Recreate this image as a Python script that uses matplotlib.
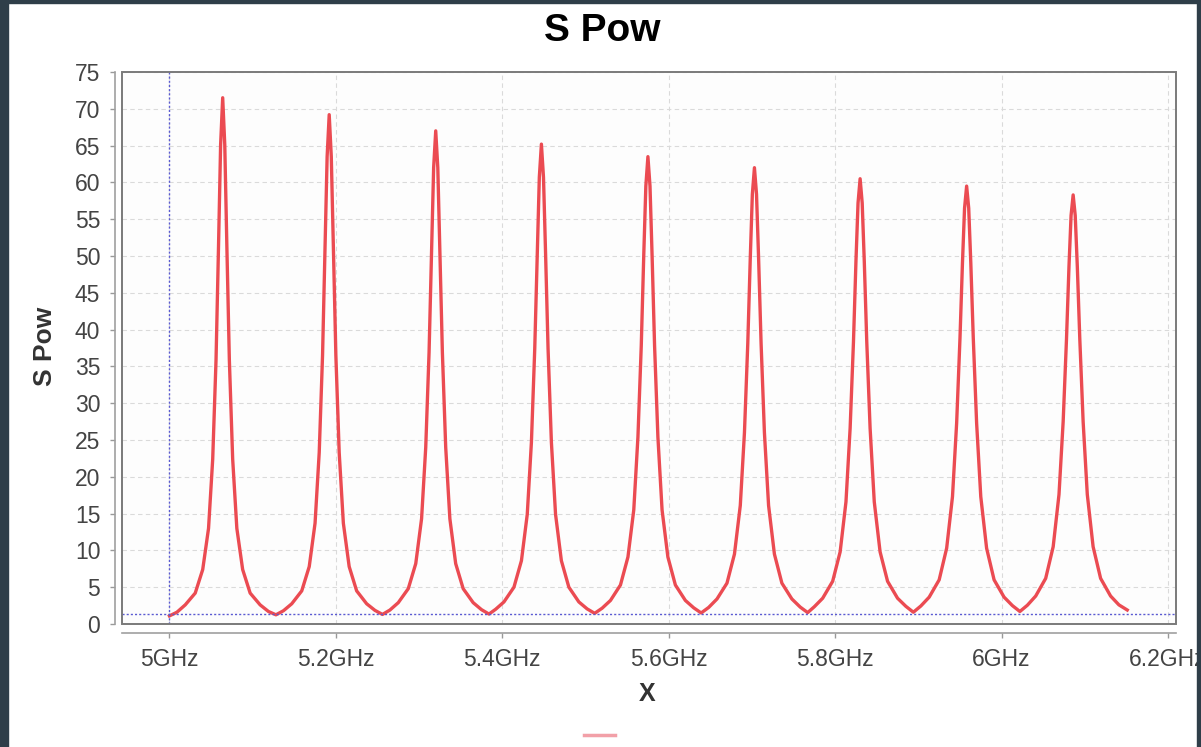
import matplotlib
matplotlib.use("Agg")
import matplotlib.pyplot as plt
from matplotlib.patches import Rectangle
from matplotlib.lines import Line2D

# sweep, one row per resonance (GHz / S Pow)
freq_ghz = [
    5.000,
    5.009, 5.019, 5.031, 5.040, 5.047, 5.052, 5.056, 5.059, 5.0615, 5.064, 5.0665, 5.069, 5.072, 5.076, 5.081, 5.088, 5.097, 5.109, 5.119, 5.128,
    5.137, 5.147, 5.159, 5.168, 5.175, 5.180, 5.184, 5.187, 5.1895, 5.192, 5.1945, 5.197, 5.200, 5.204, 5.209, 5.216, 5.225, 5.237, 5.247, 5.256,
    5.265, 5.275, 5.287, 5.296, 5.303, 5.308, 5.312, 5.315, 5.3175, 5.320, 5.3225, 5.325, 5.328, 5.332, 5.337, 5.344, 5.353, 5.365, 5.375, 5.384,
    5.392, 5.402, 5.414, 5.423, 5.430, 5.435, 5.439, 5.442, 5.4445, 5.447, 5.4495, 5.452, 5.455, 5.459, 5.464, 5.471, 5.480, 5.492, 5.502, 5.511,
    5.520, 5.530, 5.542, 5.551, 5.558, 5.563, 5.567, 5.570, 5.5725, 5.575, 5.5775, 5.580, 5.583, 5.587, 5.592, 5.599, 5.608, 5.620, 5.630, 5.639,
    5.648, 5.658, 5.670, 5.679, 5.686, 5.691, 5.695, 5.698, 5.7005, 5.703, 5.7055, 5.708, 5.711, 5.715, 5.720, 5.727, 5.736, 5.748, 5.758, 5.767,
    5.775, 5.785, 5.797, 5.806, 5.813, 5.818, 5.822, 5.825, 5.8275, 5.830, 5.8325, 5.835, 5.838, 5.842, 5.847, 5.854, 5.863, 5.875, 5.885, 5.894,
    5.903, 5.913, 5.925, 5.934, 5.941, 5.946, 5.950, 5.953, 5.9555, 5.958, 5.9605, 5.963, 5.966, 5.970, 5.975, 5.982, 5.991, 6.003, 6.013, 6.022,
    6.031, 6.041, 6.053, 6.062, 6.069, 6.074, 6.078, 6.081, 6.0835, 6.086, 6.0885, 6.091, 6.094, 6.098, 6.103, 6.110, 6.119, 6.131, 6.141, 6.151,
]
s_pow = [
    1.1,
    1.6, 2.6, 4.2, 7.4, 13.0, 22.4, 35.9, 51.4, 65.1, 71.5, 65.1, 51.4, 35.9, 22.4, 13.0, 7.4, 4.2, 2.6, 1.7, 1.25,
    1.8, 2.75, 4.5, 7.8, 13.7, 23.3, 36.5, 51.1, 63.5, 69.2, 63.5, 51.1, 36.5, 23.3, 13.7, 7.8, 4.5, 2.75, 1.85, 1.3,
    1.9, 2.9, 4.8, 8.2, 14.3, 24.0, 36.9, 50.7, 62.0, 67.0, 62.0, 50.7, 36.9, 24.0, 14.3, 8.2, 4.8, 2.9, 1.95, 1.35,
    2.0, 3.0, 5.0, 8.6, 14.9, 24.7, 37.4, 50.4, 60.7, 65.2, 60.7, 50.4, 37.4, 24.7, 14.9, 8.6, 5.0, 3.0, 2.05, 1.45,
    2.15, 3.2, 5.3, 9.1, 15.5, 25.4, 37.8, 50.1, 59.5, 63.5, 59.5, 50.1, 37.8, 25.4, 15.5, 9.1, 5.3, 3.2, 2.2, 1.5,
    2.25, 3.4, 5.55, 9.5, 16.1, 26.0, 38.1, 49.7, 58.4, 62.0, 58.4, 49.7, 38.1, 26.0, 16.1, 9.5, 5.55, 3.4, 2.3, 1.55,
    2.35, 3.5, 5.8, 9.8, 16.6, 26.6, 38.3, 49.3, 57.2, 60.5, 57.2, 49.3, 38.3, 26.6, 16.6, 9.8, 5.8, 3.5, 2.4, 1.6,
    2.45, 3.65, 6.0, 10.3, 17.3, 27.3, 38.8, 49.1, 56.5, 59.5, 56.5, 49.1, 38.8, 27.3, 17.3, 10.3, 6.0, 3.65, 2.5, 1.7,
    2.55, 3.8, 6.2, 10.5, 17.6, 27.5, 38.7, 48.6, 55.5, 58.3, 55.5, 48.6, 38.7, 27.5, 17.6, 10.5, 6.2, 3.8, 2.6, 1.9,
]

x_ticks = [5.0, 5.2, 5.4, 5.6, 5.8, 6.0, 6.2]
x_tick_labels = ["5GHz", "5.2GHz", "5.4GHz", "5.6GHz", "5.8GHz", "6GHz", "6.2GHz"]
y_ticks = list(range(0, 80, 5))
crosshair = (5.0, 1.35)

plt.rcParams["font.family"] = ["Liberation Sans", "DejaVu Sans"]

W, H = 1201, 747
fig = plt.figure(figsize=(W / 100, H / 100), dpi=100)
fig.patch.set_facecolor("white")
ax = fig.add_axes([122 / W, 1 - 624 / H, (1176 - 122) / W, (624 - 72) / H])
ax.set_facecolor("#fdfdfd")

ax.plot(freq_ghz, s_pow, color="#eb4b52", lw=2.4, solid_joinstyle="round", zorder=3)
ax.axvline(crosshair[0], color="#5a5ad2", lw=1, ls=(0, (1.5, 1.5)), zorder=4)
ax.axhline(crosshair[1], color="#5a5ad2", lw=1, ls=(0, (1.5, 1.5)), zorder=4)

ax.set_xlim(4.943, 6.2096)
ax.set_ylim(0, 75)
ax.set_xticks(x_ticks, x_tick_labels)
ax.set_yticks(y_ticks)
ax.grid(True, color="#dadada", ls=(0, (4, 3)), lw=0.8)
ax.set_axisbelow(True)

for s in ["top", "right"]:
    ax.spines[s].set_visible(False)
ax.spines["left"].set_position(("outward", 5))
ax.spines["bottom"].set_position(("outward", 6.5))
for s in ["left", "bottom"]:
    ax.spines[s].set_color("#a0a0a0")
    ax.spines[s].set_linewidth(1.2)
ax.add_patch(Rectangle((0, 0), 1, 1, transform=ax.transAxes, fill=False,
                       ec="#7a7a7a", lw=1.4, clip_on=False, zorder=5))
ax.tick_params(axis="both", length=3.6, width=1, color="#999999",
               labelsize=16.5, labelcolor="#444444", pad=7)

fig.text(602.5 / W, 1 - 41 / H, "S Pow", ha="center", va="baseline",
         fontsize=28, fontweight="bold", color="black")
fig.text(45 / W, 1 - 346 / H, "S Pow", rotation=90, ha="center", va="center",
         fontsize=19, fontweight="bold", color="#333333")
fig.text(647 / W, 1 - 694 / H, "X", ha="center", va="center",
         fontsize=18, fontweight="bold", color="#333333")

# legend swatch (series has no name)
fig.add_artist(Line2D([584 / W, 615 / W], [1 - 735 / H] * 2, color="#f2a0a8", lw=2.5))

# dark frame around the screenshot
border = "#2f3e49"
fig.add_artist(Rectangle((0, 0), 8 / W, 1, transform=fig.transFigure, color=border, zorder=10))
fig.add_artist(Rectangle((0, 1 - 3 / H), 1, 3 / H, transform=fig.transFigure, color=border, zorder=10))
fig.add_artist(Rectangle((1197 / W, 0), 4 / W, 1, transform=fig.transFigure, color=border, zorder=10))

fig.savefig("out.png", dpi=100)
